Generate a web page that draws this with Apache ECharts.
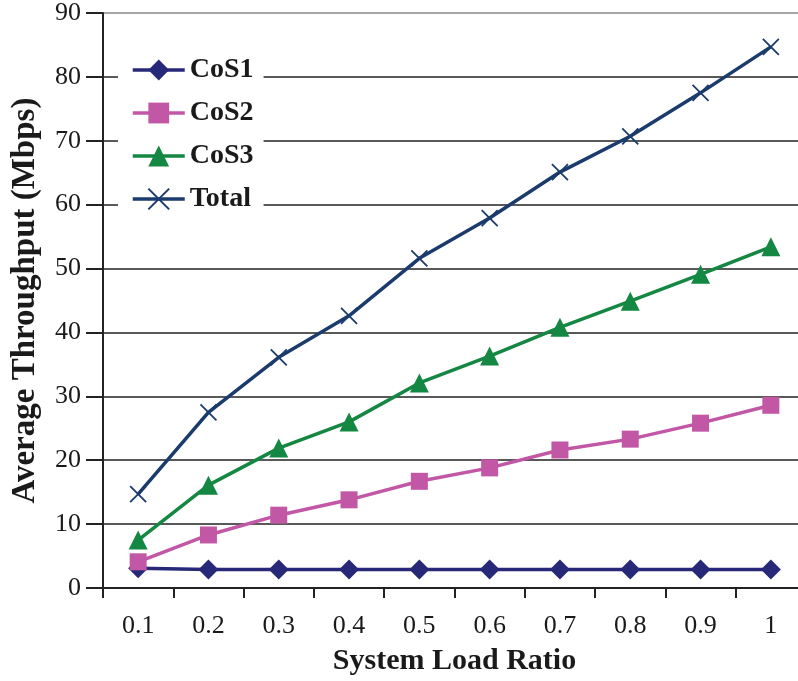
<!DOCTYPE html>
<html>
<head>
<meta charset="utf-8">
<script src="https://cdn.jsdelivr.net/npm/echarts@6/dist/echarts.min.js"></script>
<style>
  html, body { margin: 0; padding: 0; background: #fff; }
  #chart { width: 798px; height: 681px; }
</style>
</head>
<body>
<div id="chart"></div>
<script>
  // load ratio categories
  var loadRatio = ['0.1', '0.2', '0.3', '0.4', '0.5', '0.6', '0.7', '0.8', '0.9', '1'];

  // average throughput (Mbps)
  var cos1 = [3.1, 2.9, 2.9, 2.9, 2.9, 2.9, 2.9, 2.9, 2.9, 2.9];
  var cos2 = [4.1, 8.3, 11.4, 13.8, 16.7, 18.8, 21.6, 23.3, 25.8, 28.6];
  var cos3 = [7.5, 16.1, 21.9, 26.0, 32.1, 36.3, 40.8, 44.9, 49.1, 53.4];
  var total = [14.7, 27.5, 36.1, 42.6, 51.6, 57.9, 65.1, 70.7, 77.5, 84.7];

  var serif = '"Liberation Serif", "Times New Roman", serif';
  var crossPath = 'path://M0,0L10,10M10,0L0,10';

  function line(name, data, color, symbol, size, extra) {
    var s = {
      name: name,
      type: 'line',
      data: data,
      symbol: symbol,
      symbolSize: size,
      showAllSymbol: true,
      animation: false,
      lineStyle: { color: color, width: 3.5 },
      itemStyle: { color: color }
    };
    if (extra) {
      for (var k in extra) s[k] = extra[k];
    }
    return s;
  }

  var chart = echarts.init(document.getElementById('chart'));
  chart.setOption({
    backgroundColor: '#fff',
    // the plot runs a little past the right edge of the window
    grid: { left: 103, top: 13, width: 703, height: 575, outerBoundsMode: 'none' },
    legend: {
      orient: 'vertical',
      left: 118,
      top: 52,
      padding: [4, 10, 4, 13],
      backgroundColor: '#fff',
      itemWidth: 52,
      itemHeight: 26,
      itemGap: 15,
      lineStyle: { width: 3.5 },
      textStyle: { fontFamily: serif, fontSize: 28, fontWeight: 'bold', color: '#1a1a1a' },
      data: ['CoS1', 'CoS2', 'CoS3', 'Total']
    },
    xAxis: {
      type: 'category',
      data: loadRatio,
      boundaryGap: true,
      name: 'System Load Ratio',
      nameLocation: 'middle',
      nameGap: 58,
      nameTextStyle: { fontFamily: serif, fontSize: 30, fontWeight: 'bold', color: '#1a1a1a' },
      axisLine: { lineStyle: { color: '#222', width: 2 } },
      axisTick: { show: true, length: 10, lineStyle: { color: '#222', width: 2 } },
      axisLabel: { fontFamily: serif, fontSize: 26, color: '#1a1a1a', margin: 25 },
      splitLine: { show: false }
    },
    yAxis: {
      type: 'value',
      min: 0,
      max: 90,
      interval: 10,
      name: 'Average Throughput (Mbps)',
      nameLocation: 'middle',
      nameGap: 61,
      nameTextStyle: { fontFamily: serif, fontSize: 33, fontWeight: 'bold', color: '#1a1a1a' },
      axisLine: { show: true, lineStyle: { color: '#222', width: 2 } },
      axisTick: { show: true, length: 17, lineStyle: { color: '#222', width: 2 } },
      axisLabel: { fontFamily: serif, fontSize: 26, color: '#1a1a1a', margin: 22 },
      splitLine: {
        show: true,
        lineStyle: {
          color: ['#222', '#222', '#222', '#222', '#222', '#222', '#222', '#222', '#222', '#888'],
          width: 1.5
        }
      }
    },
    series: [
      line('CoS1', cos1, '#272878', 'diamond', 20),
      line('CoS2', cos2, '#c257a6', 'rect', 17),
      line('CoS3', cos3, '#148742', 'triangle', 19),
      line('Total', total, '#1b3b6d', crossPath, 16, {
        itemStyle: { color: '#1b3b6d', borderColor: '#1b3b6d', borderWidth: 1.8 }
      })
    ]
  });
</script>
</body>
</html>
